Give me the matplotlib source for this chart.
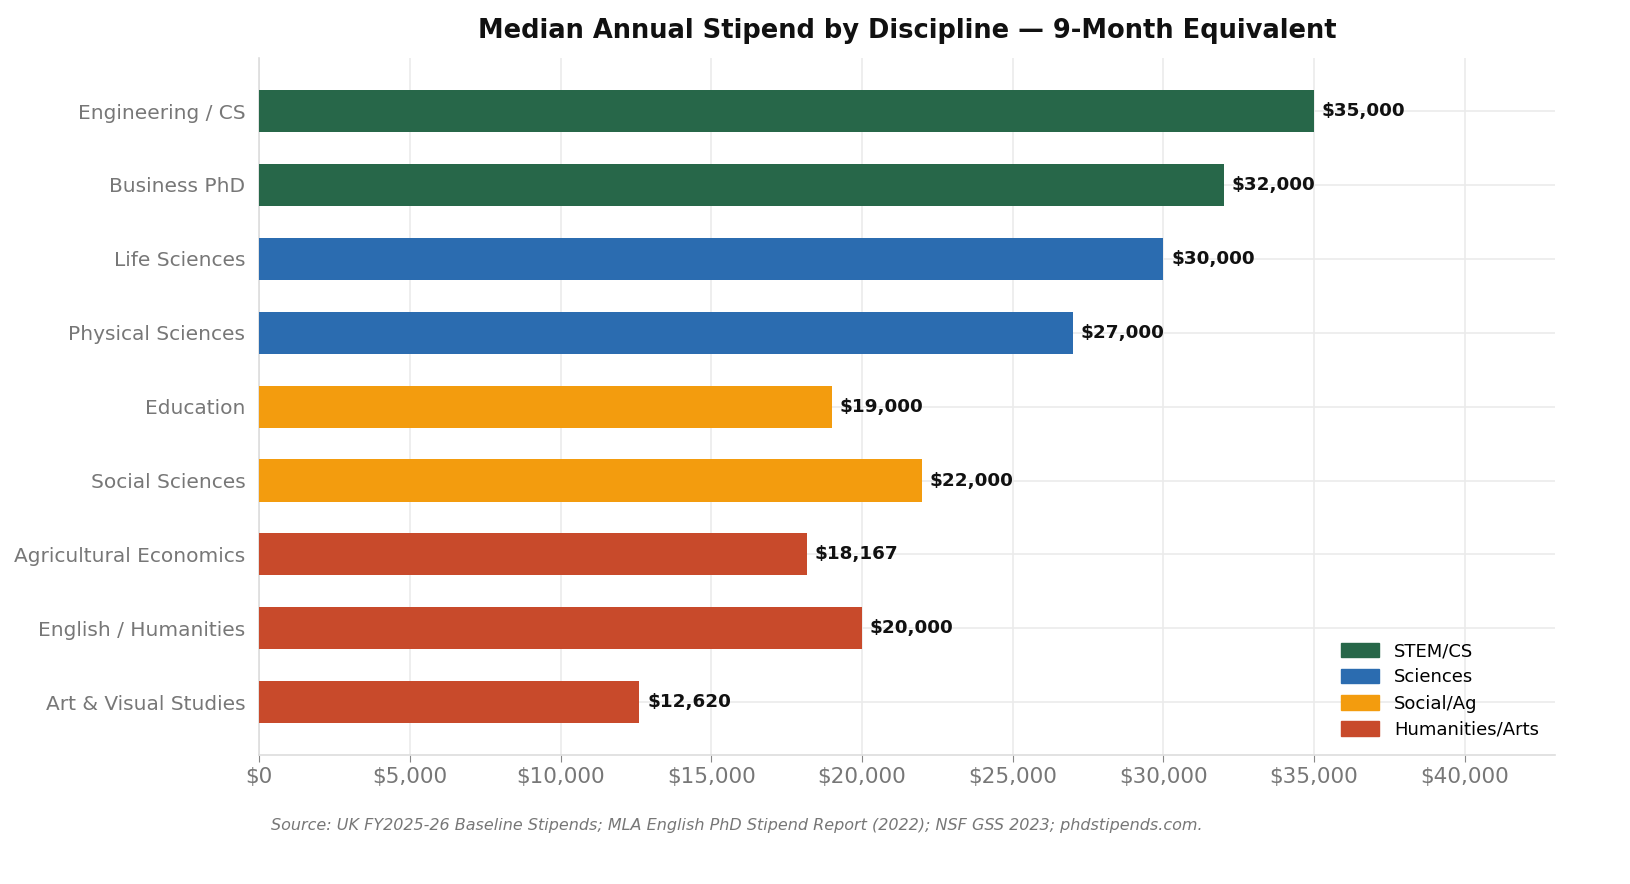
import matplotlib.pyplot as plt
from matplotlib.patches import Patch

disciplines = ["Art & Visual Studies", "English / Humanities", "Agricultural Economics",
               "Social Sciences", "Education", "Physical Sciences", "Life Sciences",
               "Business PhD", "Engineering / CS"]
stipends = [12620, 20000, 18167, 22000, 19000, 27000, 30000, 32000, 35000]
groups = ["Humanities/Arts", "Humanities/Arts", "Humanities/Arts", "Social/Ag", "Social/Ag",
          "Sciences", "Sciences", "STEM/CS", "STEM/CS"]

group_colors = {"STEM/CS": "#276749", "Sciences": "#2b6cb0",
                "Social/Ag": "#f39c0e", "Humanities/Arts": "#c84a2b"}

fig, ax = plt.subplots(figsize=(16.3, 8.84), dpi=100)
fig.subplots_adjust(left=0.159, right=0.954, top=0.934, bottom=0.146)

y = range(len(disciplines))
ax.barh(y, stipends, height=0.57, color=[group_colors[g] for g in groups], zorder=3)
for i, v in enumerate(stipends):
    ax.text(v + 260, i, f"${v:,}", va="center", ha="left", fontsize=13.2,
            fontweight="bold", color="#111111", zorder=4)

ax.set_yticks(list(y))
ax.set_yticklabels(disciplines)
ax.set_xlim(0, 43000)
ax.set_xticks(range(0, 45000, 5000))
ax.set_xticklabels([f"${t:,}" for t in range(0, 45000, 5000)])
ax.tick_params(axis="x", labelsize=15.5, colors="#777777", length=5, color="#888888")
ax.tick_params(axis="y", labelsize=14.5, colors="#777777", length=0, pad=10)
ax.grid(True, color="#ebebeb", linewidth=1.2, zorder=0)
for s in ["top", "right"]:
    ax.spines[s].set_visible(False)
for s in ["left", "bottom"]:
    ax.spines[s].set_color("#dddddd")
    ax.spines[s].set_linewidth(1.2)

ax.set_title("Median Annual Stipend by Discipline — 9-Month Equivalent",
             fontsize=18.5, fontweight="bold", pad=15, color="#111111")

handles = [Patch(color=group_colors[g], label=g)
           for g in ["STEM/CS", "Sciences", "Social/Ag", "Humanities/Arts"]]
ax.legend(handles=handles, loc="lower right", frameon=False, fontsize=13,
          handlelength=2.1, handleheight=0.85, labelspacing=0.45)

fig.text(0.452, 0.066, "Source: UK FY2025-26 Baseline Stipends; MLA English PhD Stipend Report (2022); "
         "NSF GSS 2023; phdstipends.com.", ha="center", va="center", fontsize=11.5,
         style="italic", color="#777777")

fig.savefig("out.png")
